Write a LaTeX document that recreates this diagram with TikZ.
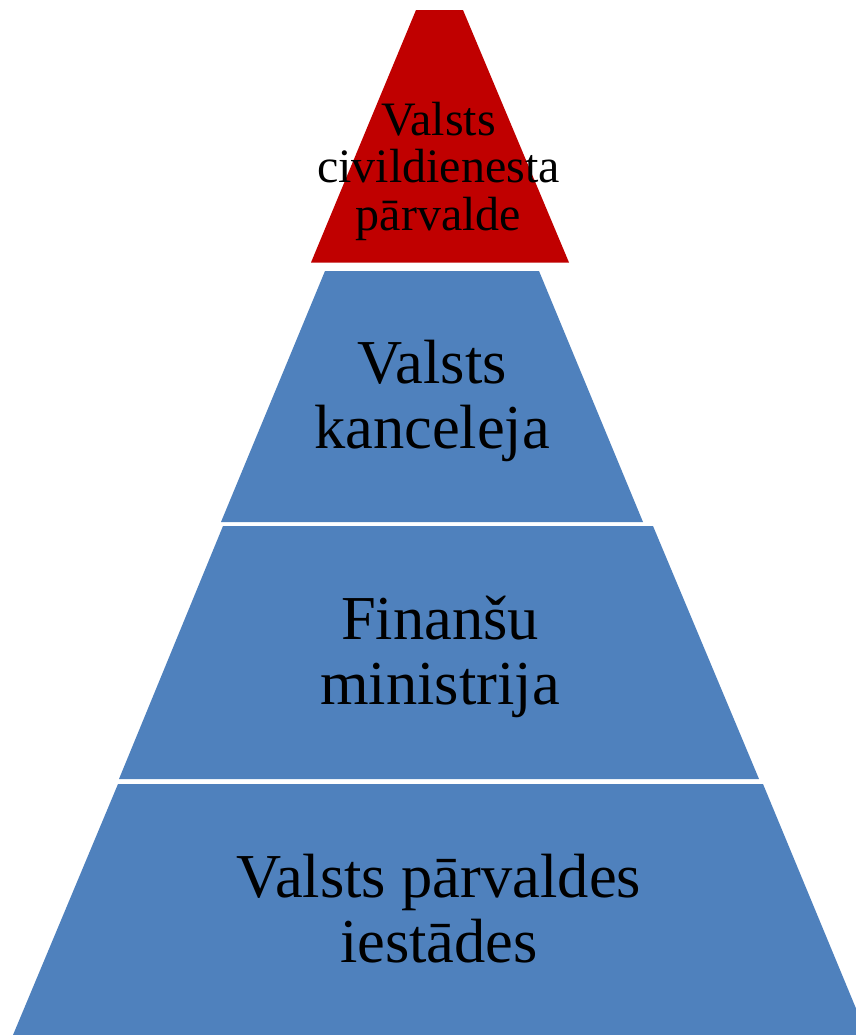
\documentclass[tikz,border=0pt]{standalone}
\usepackage{fontspec}
\setmainfont{Liberation Serif}
\definecolor{tierred}{HTML}{C00000}
\definecolor{tierblue}{HTML}{4F81BD}
\tikzset{
  tier/.style={fill=tierblue, draw=none},
  toptier/.style={fill=tierred, draw=none},
  bigtext/.style={align=center, anchor=base, inner sep=0pt, font=\fontsize{62.5bp}{65bp}\selectfont, text=black},
  smalltext/.style={align=center, anchor=base, inner sep=0pt, font=\fontsize{48bp}{47.5bp}\selectfont, text=black}
}
\begin{document}
\begin{tikzpicture}[x=1bp,y=-1bp]
\useasboundingbox (0,0) rectangle (856,1035);
\clip (0,0) rectangle (856,1035);
\fill[white] (0,0) rectangle (856,1035);
% tiers
\path[toptier] (416,10) -- (463,10) -- (569,262.5) -- (311,262.5) -- cycle;
\path[tier] (325,271) -- (539,271) -- (643,522) -- (221,522) -- cycle;
\path[tier] (223,526) -- (653,526) -- (759,779) -- (119,779) -- cycle;
\path[tier] (118,784) -- (763,784) -- (867,1035) -- (13,1035) -- cycle;
% labels (anchor = baseline of last line)
\node[smalltext] (t1) at (438.5,230) {Valsts\\civildienesta\\pārvalde};
\node[bigtext] (t2) at (432,448) {Valsts\\kanceleja};
\node[bigtext] (t3) at (440,704) {Finanšu\\ministrija};
\node[bigtext] (t4) at (439,962) {Valsts pārvaldes\\iestādes};
\end{tikzpicture}
\end{document}
